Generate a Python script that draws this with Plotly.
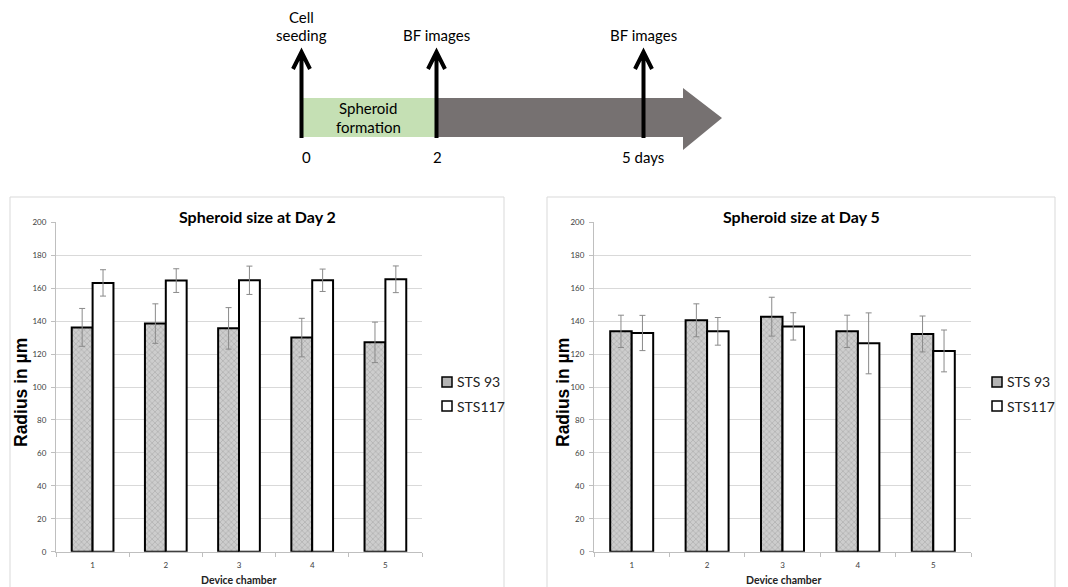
import plotly.graph_objects as go

W, H = 1068, 587

chambers = [1, 2, 3, 4, 5]
tick_labels = ["1", "2", "3", "4", "5"]
series_names = ["STS 93", "STS117"]

day2_sts93 = [136.2, 138.5, 135.6, 130.0, 127.1]
day2_sts93_err = [11.5, 12.0, 12.6, 11.7, 12.3]
day2_sts117 = [163.2, 164.6, 164.8, 164.8, 165.4]
day2_sts117_err = [8.0, 7.2, 8.6, 6.8, 8.1]

day5_sts93 = [133.8, 140.5, 142.7, 133.8, 132.2]
day5_sts93_err = [9.8, 10.0, 11.8, 9.8, 10.9]
day5_sts117 = [132.8, 133.8, 136.8, 126.5, 121.9]
day5_sts117_err = [10.7, 8.4, 8.3, 18.5, 12.7]


def px(x):
    return x / W


def py(y):
    return 1 - y / H


fig = go.Figure()

hatch = dict(color="#c4c4c4", line=dict(color="black", width=2),
             pattern=dict(shape="x", fgcolor="#7c7c7c", bgcolor="#cdcdcd", size=4, solidity=0.25))
plain = dict(color="white", line=dict(color="black", width=2))
err_style = dict(type="data", color="#8a8a8a", thickness=1, width=3)

panels = [
    ("x", "y", day2_sts93, day2_sts93_err, day2_sts117, day2_sts117_err),
    ("x2", "y2", day5_sts93, day5_sts93_err, day5_sts117, day5_sts117_err),
]
for xa, ya, a, ae, b, be in panels:
    fig.add_trace(go.Bar(x=chambers, y=a, name=series_names[0], marker=hatch,
                         error_y=dict(array=ae, **err_style), xaxis=xa, yaxis=ya))
    fig.add_trace(go.Bar(x=chambers, y=b, name=series_names[1], marker=plain,
                         error_y=dict(array=be, **err_style), xaxis=xa, yaxis=ya))

ydom = [py(551.7), py(222.3)]
tickf = dict(family="Lato", size=8, color="#404040")
axis_common_x = dict(range=[0.5, 5.5], tickvals=chambers, ticktext=tick_labels, ticks="",
                     showgrid=False, showline=True, linecolor="#bfbfbf", linewidth=1,
                     tickfont=tickf, ticklabelstandoff=6, automargin=False,
                     minor=dict(tickvals=[0.5, 1.5, 2.5, 3.5, 4.5, 5.5], ticks="outside",
                                ticklen=4, tickcolor="#bfbfbf", showgrid=False),
                     zeroline=False, fixedrange=True)
axis_common_y = dict(range=[0, 200], dtick=20, domain=ydom, showgrid=True, gridcolor="#d9d9d9",
                     gridwidth=1, showline=True, linecolor="#bfbfbf", linewidth=1,
                     ticks="outside", ticklen=4, tickcolor="#bfbfbf", zeroline=False,
                     tickfont=tickf, ticklabelstandoff=3, automargin=False, fixedrange=True)

fig.update_layout(
    width=W, height=H,
    margin=dict(l=0, r=0, t=0, b=0, pad=0, autoexpand=False),
    paper_bgcolor="white", plot_bgcolor="white",
    barmode="group", bargap=0.43, bargroupgap=0,
    xaxis=dict(domain=[px(56), px(422)], anchor="y", **axis_common_x),
    yaxis=dict(anchor="x", **axis_common_y),
    xaxis2=dict(domain=[px(594), px(971)], anchor="y2", **axis_common_x),
    yaxis2=dict(anchor="x2", **axis_common_y),
    showlegend=False,
)

shapes = []
annotations = []


def note(text, x, y, font, xanchor="center", yanchor="middle", **kw):
    annotations.append(dict(text=text, x=px(x), y=py(y), xref="paper", yref="paper",
                            showarrow=False, xanchor=xanchor, yanchor=yanchor, font=font, **kw))


# panel frames
for x0, x1 in [(10, 504), (547, 1055)]:
    shapes.append(dict(type="rect", xref="paper", yref="paper", x0=px(x0), x1=px(x1),
                       y0=py(600), y1=py(197), line=dict(color="#d9d9d9", width=1),
                       fillcolor="rgba(0,0,0,0)", layer="below"))

# panel titles, axis titles, legends
title_font = dict(family="Lato", size=16, color="black")
ylab_font = dict(family="Liberation Sans", size=17.5, color="black")
xlab_font = dict(family="Lato", size=10.5, color="#222")
leg_font = dict(family="Lato", size=14, color="#222")
for cx, title, ylx, dcx, lgx in [(257, "Spheroid size at Day 2", 21, 238, 442),
                                 (801, "Spheroid size at Day 5", 563, 783, 992)]:
    note("<b>" + title + "</b>", cx, 216, title_font)
    note("<b>Radius in µm</b>", ylx, 393, ylab_font, textangle=-90)
    note("<b>Device chamber</b>", dcx, 580, xlab_font)
    for i, (name, fill) in enumerate(zip(series_names, ["#b4b4b4", "white"])):
        yc = 382 + 24 * i
        shapes.append(dict(type="rect", xref="paper", yref="paper", x0=px(lgx), x1=px(lgx + 10),
                           y0=py(yc + 5), y1=py(yc - 5), fillcolor=fill,
                           line=dict(color="black", width=1.5)))
        note(name, lgx + 13, yc, leg_font, xanchor="left")

# timeline diagram
shapes.append(dict(type="rect", xref="paper", yref="paper", x0=px(300), x1=px(436),
                   y0=py(137), y1=py(98), fillcolor="#c5e0b4", line=dict(width=0), layer="below"))
arrow_path = "M {} {} L {} {} L {} {} L {} {} L {} {} L {} {} L {} {} Z".format(
    px(435), py(98), px(683), py(98), px(683), py(88), px(722), py(118),
    px(683), py(150), px(683), py(137), px(435), py(137))
shapes.append(dict(type="path", xref="paper", yref="paper", path=arrow_path,
                   fillcolor="#767171", line=dict(width=0), layer="below"))
for ax in [301.5, 436.5, 643.5]:
    p = "M {} {} L {} {} M {} {} L {} {} L {} {}".format(
        px(ax), py(138), px(ax), py(52),
        px(ax - 8.5), py(69), px(ax), py(52), px(ax + 8.5), py(69))
    shapes.append(dict(type="path", xref="paper", yref="paper", path=p,
                       line=dict(color="black", width=4)))

diag_font = dict(family="Lato", size=15, color="black")
for text, x, y in [("Cell", 301, 17), ("seeding", 301, 35), ("BF images", 436, 35),
                   ("BF images", 643, 35), ("Spheroid", 368, 108), ("formation", 368, 127),
                   ("0", 306, 157), ("2", 437, 157), ("5 days", 643, 157)]:
    note(text, x, y, diag_font)

fig.update_layout(shapes=shapes, annotations=annotations)
fig.write_html("out.html", config={"displayModeBar": False},
               post_script="document.body.style.margin='0px';")
